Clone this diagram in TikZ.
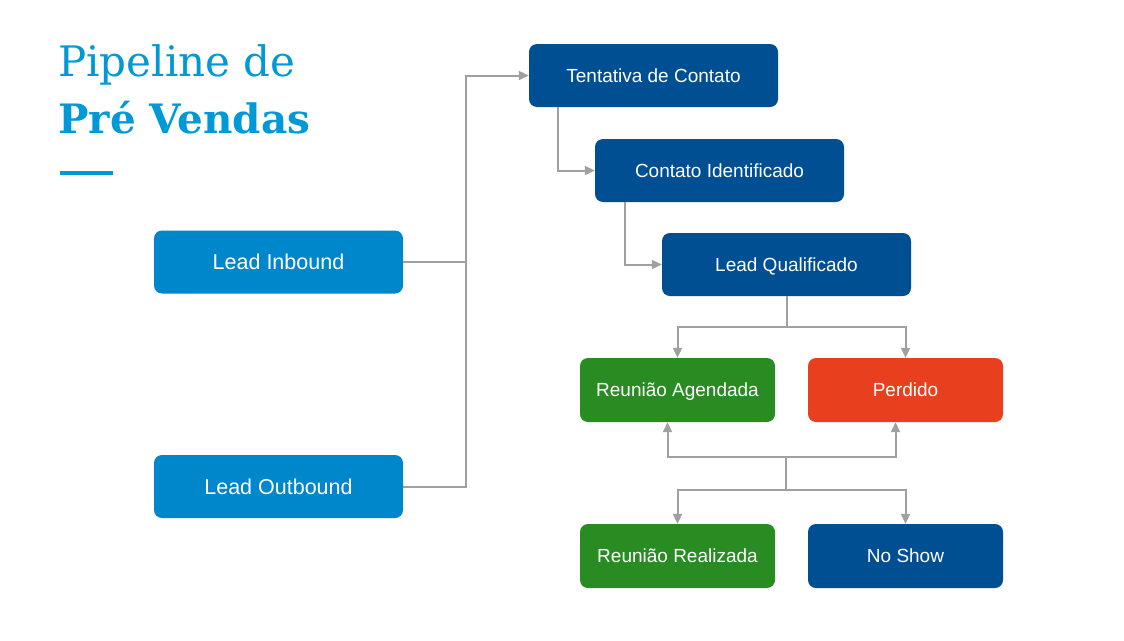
\documentclass[tikz,border=0pt]{standalone}
\usepackage{fontspec}
\setmainfont{Liberation Sans}
\newfontfamily\titlefont{DejaVu Serif}
\usetikzlibrary{arrows.meta}

\definecolor{titleblue}{RGB}{0,153,216}
\definecolor{leadblue}{RGB}{0,134,202}
\definecolor{darkblue}{RGB}{0,79,147}
\definecolor{okgreen}{RGB}{40,140,35}
\definecolor{lostred}{RGB}{232,64,30}
\definecolor{linegray}{RGB}{160,160,160}

\tikzset{
  stage/.style={rounded corners=8pt, minimum width=249pt, minimum height=63pt,
    text=white, font=\fontsize{19}{22}\selectfont, inner sep=0pt,
    text height=13.6pt, text depth=0pt},
  leadbox/.style={stage, fill=leadblue, font=\fontsize{21.5}{24}\selectfont,
    text height=15.4pt},
  bluebox/.style={stage, fill=darkblue},
  smallbox/.style={stage, minimum width=195pt, minimum height=64pt},
  flow/.style={draw=linegray, line width=2pt, -{Triangle[length=10pt,width=9pt]}},
  joint/.style={draw=linegray, line width=2pt}
}

\begin{document}
\begin{tikzpicture}[x=1pt,y=1pt,yscale=-1]
\useasboundingbox [fill=white] (0,0) rectangle (1124,640);

% title
\node (title1) [anchor=base west, inner sep=0pt, text=titleblue,
  font=\titlefont\fontsize{42}{46}\selectfont] at (58,76) {Pipeline de};
\node (title2) [anchor=base west, inner sep=0pt, text=titleblue,
  font=\titlefont\bfseries\fontsize{40.5}{44}\selectfont] at (58,133) {Pré Vendas};
\draw [titleblue, line width=4pt] (60,173) -- (113,173);

% stages
\node (tent) [bluebox] at (653.5,75.5) {Tentativa de Contato};
\node (ident) [bluebox] at (719.5,170.5) {Contato Identificado};
\node (qual) [bluebox] at (786.5,264.5) {Lead Qualificado};
\node (inb) [leadbox] at (278.5,262) {Lead Inbound};
\node (outb) [leadbox] at (278.5,486.5) {Lead Outbound};
\node (agend) [smallbox, fill=okgreen] at (677.5,390) {Reunião Agendada};
\node (perd) [smallbox, fill=lostred] at (905.5,390) {Perdido};
\node (real) [smallbox, fill=okgreen] at (677.5,556) {Reunião Realizada};
\node (nosh) [smallbox, fill=darkblue] at (905.5,556) {No Show};

% junction points
\coordinate (jin) at (466,262);
\coordinate (jmid) at (786,457);

% connectors
\draw [joint] (inb.east) -- (jin);
\draw [flow] (outb.east) -| (jin) |- (tent.west);
\draw [flow] (tent.south west) ++(29,0) |- (ident.west);
\draw [flow] (ident.south west) ++(30,0) |- (qual.west);
\draw [flow] (qual.south) -- ++(0,31) -| (agend.north);
\draw [flow] (qual.south) -- ++(0,31) -| (perd.north);
\draw [flow] (jmid) -| ([xshift=-10pt]agend.south);
\draw [flow] (jmid) -| ([xshift=-10pt]perd.south);
\draw [flow] (jmid) -- ++(0,33) -| (real.north);
\draw [flow] (jmid) -- ++(0,33) -| (nosh.north);
\end{tikzpicture}
\end{document}
